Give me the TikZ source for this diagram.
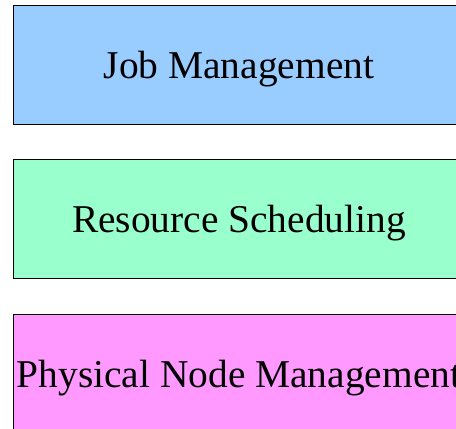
\documentclass[tikz,border=0pt]{standalone}
\usepackage{fontspec}
\setmainfont{Liberation Serif}
\definecolor{jobblue}{HTML}{99CCFF}
\definecolor{schedgreen}{HTML}{99FFCC}
\definecolor{nodepink}{HTML}{FF99FF}

\begin{document}
\begin{tikzpicture}[x=1pt,y=1pt]

\tikzset{layer/.style={draw=black,line width=1pt,minimum width=451pt,minimum height=119pt,
  inner sep=0pt,text height=30pt,text depth=3pt,font=\fontsize{39.4}{40}\selectfont}}

\clip (0,0) rectangle (456,-429);

\node[layer,fill=jobblue] (job) at (239,-64.5) {Job Management};
\node[layer,fill=schedgreen] (sched) at (239,-218.5) {Resource Scheduling};
\node[layer,fill=nodepink] (phys) at (239,-373.5) {Physical Node Management};

\end{tikzpicture}
\end{document}
